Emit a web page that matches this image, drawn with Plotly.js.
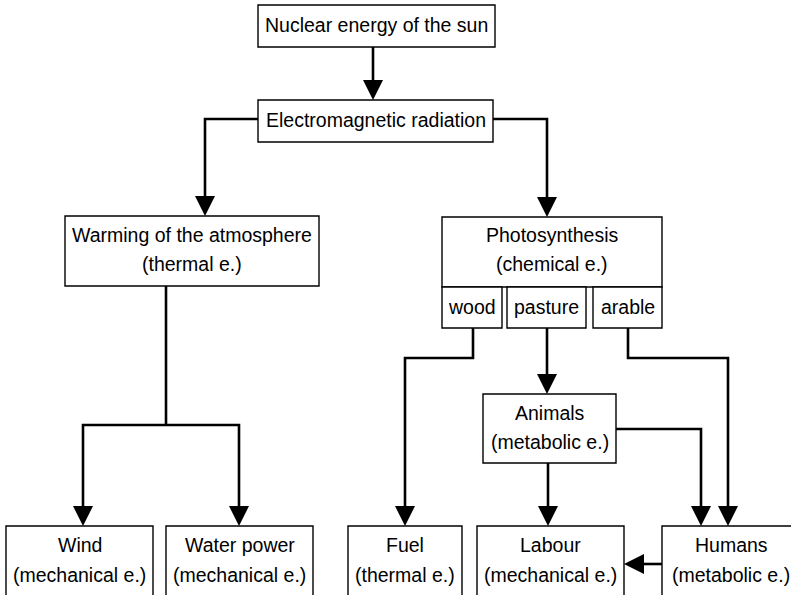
<!DOCTYPE html>
<html><head><meta charset="utf-8">
<script src="https://cdn.plot.ly/plotly-3.0.1.min.js"></script>
<style>html,body{margin:0;padding:0;background:#fff}#chart{width:791px;height:595px}</style>
</head><body><div id="chart"></div>
<script>
// Node labels (each node: list of text lines)
const nodeNames = ["nuclear","em","warming","photo","wood","pasture","arable","animals","wind","water","fuel","labour","humans"];
const nodeLines = [
  ["Nuclear energy of the sun"],
  ["Electromagnetic radiation"],
  ["Warming of the atmosphere","(thermal e.)"],
  ["Photosynthesis","(chemical e.)"],
  ["wood"],["pasture"],["arable"],
  ["Animals","(metabolic e.)"],
  ["Wind","(mechanical e.)"],
  ["Water power","(mechanical e.)"],
  ["Fuel","(thermal e.)"],
  ["Labour","(mechanical e.)"],
  ["Humans","(metabolic e.)"]
];
// Box geometry in diagram units [x0,x1,y0,y1]
const nodeBoxes = [
  [258,495,5,47],
  [258,493,100,142],
  [65,319,216,286],
  [442,662,217,287],
  [442,502,287,328],
  [507,586,287,328],
  [593,662,287,328],
  [483,616,394,463],
  [6,153,526,600],
  [166,313,526,600],
  [348,462,526,600],
  [477,624,526,600],
  [662,800,526,600]
];
// text line centres (y) per node
const nodeTextY = [
  [25],[120],[235,264],[235,264],[307],[307],[307],[413,442],[545,575],[545,575],[545,575],[545,575],[545,575]
];
// Connectors: polylines; arrow=true means arrowhead at last point
const connectors = [
  {pts:[[373,47],[373,100]],arrow:true},
  {pts:[[258,119],[205,119],[205,216]],arrow:true},
  {pts:[[493,119],[547,119],[547,217]],arrow:true},
  {pts:[[166,286],[166,425]],arrow:false},
  {pts:[[166,425],[83,425],[83,526]],arrow:true},
  {pts:[[166,425],[239,425],[239,526]],arrow:true},
  {pts:[[473,328],[473,358],[405,358],[405,526]],arrow:true},
  {pts:[[547,328],[547,394]],arrow:true},
  {pts:[[628,328],[628,358],[728,358],[728,526]],arrow:true},
  {pts:[[616,429],[701,429],[701,526]],arrow:true},
  {pts:[[548,463],[548,526]],arrow:true},
  {pts:[[662,564],[624,564]],arrow:true}
];

const FONT = {family:"Liberation Sans, Arial, sans-serif", size:19.5, color:"#000"};
const traces = [];
const annotations = [];
const shapes = [];

connectors.forEach(c => {
  const pts = c.pts;
  const xs = pts.map(p=>p[0]), ys = pts.map(p=>p[1]);
  if (c.arrow) {
    const n = pts.length;
    const [xa,ya] = pts[n-2], [xb,yb] = pts[n-1];
    const len = Math.hypot(xb-xa, yb-ya);
    const cut = 8;
    xs[n-1] = xb - (xb-xa)/len*cut; ys[n-1] = yb - (yb-ya)/len*cut;
    annotations.push({x:xb, y:yb, ax:xs[n-1]-(xb-xa)/len*2, ay:ys[n-1]-(yb-ya)/len*2, xref:"x", yref:"y", axref:"x", ayref:"y",
      text:"", showarrow:true, arrowhead:2, arrowsize:1.6, arrowwidth:2.5, arrowcolor:"#000", standoff:0});
  }
  traces.push({x:xs, y:ys, type:"scatter", mode:"lines", line:{color:"#000", width:2.6}, hoverinfo:"skip", showlegend:false});
});

nodeBoxes.forEach((b,i) => {
  shapes.push({type:"rect", xref:"x", yref:"y", x0:b[0], x1:b[1], y0:b[2], y1:b[3],
    line:{color:"#000", width:1.4}, fillcolor:"#fff", layer:"above"});
  const cx = (b[0]+b[1])/2;
  nodeLines[i].forEach((t,j) => {
    annotations.push({x:cx, y:nodeTextY[i][j], xref:"x", yref:"y", text:t, showarrow:false,
      xanchor:"center", yanchor:"middle", font:FONT});
  });
});

const layout = {
  width:791, height:595, margin:{l:0,r:0,t:0,b:0},
  paper_bgcolor:"#fff", plot_bgcolor:"#fff",
  xaxis:{range:[0,791], visible:false, fixedrange:true},
  yaxis:{range:[595,0], visible:false, fixedrange:true},
  shapes:shapes, annotations:annotations, showlegend:false
};
Plotly.newPlot("chart", traces, layout, {staticPlot:true});
</script></body></html>
